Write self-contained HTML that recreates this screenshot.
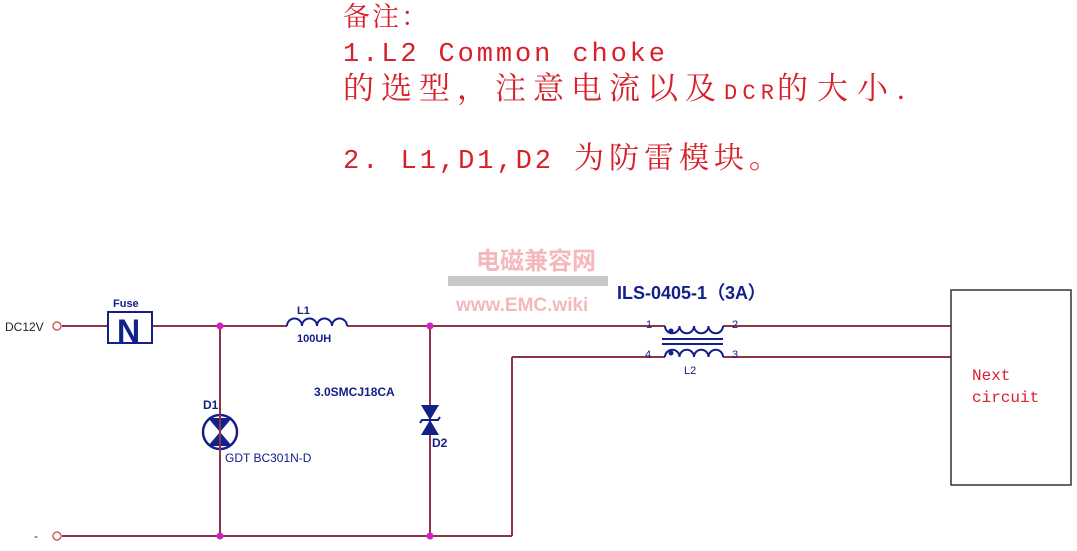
<!DOCTYPE html>
<html><head><meta charset="utf-8"><style>
html,body{margin:0;padding:0;background:#fff;}
svg{display:block}
.n{font-family:"Liberation Mono","Noto Serif CJK SC",monospace;fill:#d8202a;}
.c{font-family:"Liberation Serif","Noto Serif CJK SC",serif;fill:#d8202a;}
.b{font-family:"Liberation Sans",sans-serif;fill:#14208a;}
</style></head><body>
<svg width="1077" height="551" viewBox="0 0 1077 551" xmlns="http://www.w3.org/2000/svg">
<text class="c" x="343" y="26" font-size="27" style="letter-spacing:2px">备注：</text>
<text class="n" x="343" y="61" font-size="27" textLength="322" lengthAdjust="spacing">1.L2 Common choke</text>
<text class="c" x="343" y="99" font-size="31" style="letter-spacing:7px">的选型，注意电流以及</text>
<text class="n" x="724" y="99" font-size="22" textLength="50">DCR</text>
<text class="c" x="777" y="99" font-size="31" style="letter-spacing:9px">的大小.</text>
<text class="n" x="343" y="168" font-size="27" textLength="208" lengthAdjust="spacing">2. L1,D1,D2</text>
<text class="c" x="574" y="168" font-size="30" style="letter-spacing:5px">为防雷模块。</text>
<text x="476" y="269" font-family="Liberation Sans,'Noto Sans CJK SC',sans-serif" font-weight="bold" font-size="24" fill="#f5b8bc">电磁兼容网</text>
<rect x="448" y="276" width="160" height="10" fill="#c8c8c8"/>
<text x="456" y="311" font-family="Liberation Sans,sans-serif" font-weight="bold" font-size="19" fill="#f5b8bc">www.EMC.wiki</text>
<g stroke="#8e3448" stroke-width="2" fill="none">
<line x1="62" y1="326" x2="107" y2="326"/>
<line x1="152" y1="326" x2="287" y2="326"/>
<line x1="347" y1="326" x2="665" y2="326"/>
<line x1="723" y1="326" x2="951" y2="326"/>
<line x1="512" y1="357" x2="665" y2="357"/>
<line x1="723" y1="357" x2="951" y2="357"/>
<line x1="512" y1="357" x2="512" y2="536"/>
<line x1="62" y1="536" x2="512" y2="536"/>
<line x1="220" y1="326" x2="220" y2="536"/>
<line x1="430" y1="326" x2="430" y2="536"/>
</g>
<circle cx="57" cy="326" r="4" fill="#fff" stroke="#d06060" stroke-width="1.5"/>
<circle cx="57" cy="536" r="4" fill="#fff" stroke="#d06060" stroke-width="1.5"/>
<g fill="#d020c0">
<circle cx="220" cy="326" r="3.5"/><circle cx="430" cy="326" r="3.5"/>
<circle cx="220" cy="536" r="3.5"/><circle cx="430" cy="536" r="3.5"/>
</g>
<text x="5" y="331" font-family="Liberation Sans,sans-serif" font-size="12" fill="#222">DC12V</text>
<text x="34" y="540" font-family="Liberation Sans,sans-serif" font-size="12" fill="#222">-</text>
<rect x="108" y="312" width="44" height="31" fill="#fff" stroke="#14208a" stroke-width="2"/>
<text class="b" x="117" y="342" font-size="32" font-weight="bold">N</text>
<text class="b" x="113" y="307" font-size="11" font-weight="bold">Fuse</text>
<path d="M287 326 a7.5 7.5 0 0 1 15 0 a7.5 7.5 0 0 1 15 0 a7.5 7.5 0 0 1 15 0 a7.5 7.5 0 0 1 15 0" fill="none" stroke="#14208a" stroke-width="2"/>
<text class="b" x="297" y="314" font-size="11" font-weight="bold">L1</text>
<text class="b" x="297" y="342" font-size="11" font-weight="bold">100UH</text>
<circle cx="220" cy="432" r="17" fill="#fff" stroke="#14208a" stroke-width="2.5"/>
<path d="M208 418 L232 418 L220 432 Z M208 446 L232 446 L220 432 Z" fill="#14208a"/>
<line x1="220" y1="410" x2="220" y2="454" stroke="#8e3448" stroke-width="2"/>
<text class="b" x="203" y="409" font-size="12" font-weight="bold">D1</text>
<text class="b" x="225" y="462" font-size="12">GDT BC301N-D</text>
<path d="M421 405 L439 405 L430 420 Z M421 435 L439 435 L430 420 Z" fill="#14208a"/>
<path d="M420 423 L422 420 L438 420 L440 417" stroke="#14208a" stroke-width="2" fill="none"/>
<text class="b" x="314" y="396" font-size="12" font-weight="bold">3.0SMCJ18CA</text>
<text class="b" x="432" y="447" font-size="12" font-weight="bold">D2</text>
<path d="M665 326 a7.25 7.25 0 0 0 14.5 0 a7.25 7.25 0 0 0 14.5 0 a7.25 7.25 0 0 0 14.5 0 a7.25 7.25 0 0 0 14.5 0" fill="none" stroke="#14208a" stroke-width="2"/>
<path d="M665 357 a7.25 7.25 0 0 1 14.5 0 a7.25 7.25 0 0 1 14.5 0 a7.25 7.25 0 0 1 14.5 0 a7.25 7.25 0 0 1 14.5 0" fill="none" stroke="#14208a" stroke-width="2"/>
<line x1="662" y1="339" x2="723" y2="339" stroke="#14208a" stroke-width="2"/>
<line x1="662" y1="344" x2="723" y2="344" stroke="#14208a" stroke-width="2"/>
<circle cx="671" cy="331" r="2.5" fill="#14208a"/><circle cx="671" cy="353" r="2.5" fill="#14208a"/>
<text class="b" x="646" y="328" font-size="11">1</text>
<text class="b" x="732" y="328" font-size="11">2</text>
<text class="b" x="645" y="358" font-size="11">4</text>
<text class="b" x="732" y="358" font-size="11">3</text>
<text class="b" x="684" y="374" font-size="11">L2</text>
<text class="b" x="617" y="299" font-size="18" font-weight="bold">ILS-0405-1（3A）</text>
<rect x="951" y="290" width="120" height="195" fill="#fff" stroke="#333" stroke-width="1.5"/>
<text class="n" x="972" y="380" font-size="16">Next</text>
<text class="n" x="972" y="402" font-size="16">circuit</text>
</svg>
</body></html>
